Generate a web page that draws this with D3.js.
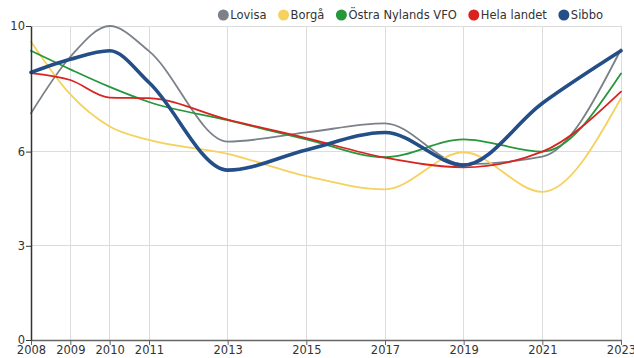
<!DOCTYPE html>
<html><head><meta charset="utf-8">
<script src="https://cdn.jsdelivr.net/npm/d3@7"></script>
<style>body{margin:0;background:#fff}svg{display:block;font-family:"DejaVu Sans",sans-serif}</style>
</head><body><svg id="c" width="634" height="358"></svg>
<script>
const years = [2008,2009,2010,2011,2013,2015,2017,2019,2021,2023];
const yTicks = [0,3,6,10];
const seriesNames = ["Lovisa","Borgå","Östra Nylands VFO","Hela landet","Sibbo"];
const lovisa = [7.22,9.02,10.0,9.2,6.32,6.61,6.9,5.6,5.84,9.26];
const borga  = [9.5,7.82,6.8,6.37,5.93,5.22,4.8,5.98,4.72,7.7];
const ostra  = [9.21,8.62,8.06,7.58,7.0,6.39,5.82,6.39,6.0,8.49];
const hela   = [8.5,8.28,7.72,7.7,7.02,6.43,5.81,5.5,6.0,7.91];
const sibbo  = [8.52,8.94,9.21,8.2,5.41,6.05,6.61,5.57,7.54,9.21];
const colors = ["#7b8089","#f5d15e","#26973b","#d9231f","#234e87"];
const widths = [1.8,1.8,1.8,1.8,3.6];

const seriesValues = [lovisa,borga,ostra,hela,sibbo];
const W=634,H=358,m={l:31,r:13,t:26,b:18};
const svg=d3.select("#c");
const x=d3.scaleLinear().domain([2008,2023]).range([m.l,W-m.r]);
const y=d3.scaleLinear().domain([0,10]).range([H-m.b,m.t]);

// grid
const g=svg.append("g");
g.selectAll("line.v").data(years).join("line")
 .attr("x1",d=>x(d)).attr("x2",d=>x(d)).attr("y1",y(0)).attr("y2",y(10))
 .attr("stroke","#dcdcdc").attr("stroke-width",1).attr("shape-rendering","crispEdges");
g.selectAll("line.h").data(yTicks).join("line")
 .attr("x1",x(2008)).attr("x2",x(2023)).attr("y1",d=>y(d)).attr("y2",d=>y(d))
 .attr("stroke","#dcdcdc").attr("stroke-width",1).attr("shape-rendering","crispEdges");

// lines
const line=d3.line().x(d=>x(d[0])).y(d=>y(d[1])).curve(d3.curveMonotoneX);
seriesValues.forEach((vals,i)=>{
  svg.append("path").datum(years.map((yr,j)=>[yr,vals[j]]))
   .attr("d",line).attr("fill","none").attr("stroke",colors[i])
   .attr("stroke-width",widths[i]).attr("stroke-linejoin","round").attr("stroke-linecap","round");
});

// axes
const xa=svg.append("g").attr("transform",`translate(0,${y(0)})`)
 .call(d3.axisBottom(x).tickValues(years).tickFormat(d3.format("d")).tickSize(5).tickSizeOuter(0));
xa.select(".domain").attr("stroke","#666").attr("stroke-width",1.5);
xa.selectAll(".tick line").attr("stroke","#666");
xa.selectAll("text").attr("fill","#333").attr("font-size","11.5px").attr("dy","0.55em").attr("font-family","DejaVu Sans");
const ya=svg.append("g").attr("transform",`translate(${x(2008)},0)`)
 .call(d3.axisLeft(y).tickValues(yTicks).tickSize(5).tickSizeOuter(0));
ya.select(".domain").attr("stroke","#333").attr("stroke-width",1.5);
ya.selectAll(".tick line").attr("stroke","#333");
ya.selectAll("text").attr("fill","#333").attr("font-size","11.5px").attr("x",-6).attr("font-family","DejaVu Sans");

// legend
const lg=svg.append("g");
let cx=0;
seriesNames.forEach((n,i)=>{
  const it=lg.append("g").attr("transform",`translate(${cx},0)`);
  it.append("circle").attr("cx",0).attr("cy",15).attr("r",5.5).attr("fill",colors[i]);
  const t=it.append("text").attr("x",7).attr("y",15).attr("dy","0.35em")
   .attr("font-size","11.5px").attr("fill","#333").text(n);
  const w=t.node().getComputedTextLength();
  cx+=7+w+17;
});
const total=cx-17;
lg.attr("transform",`translate(${603-total},0)`);
</script></body></html>
